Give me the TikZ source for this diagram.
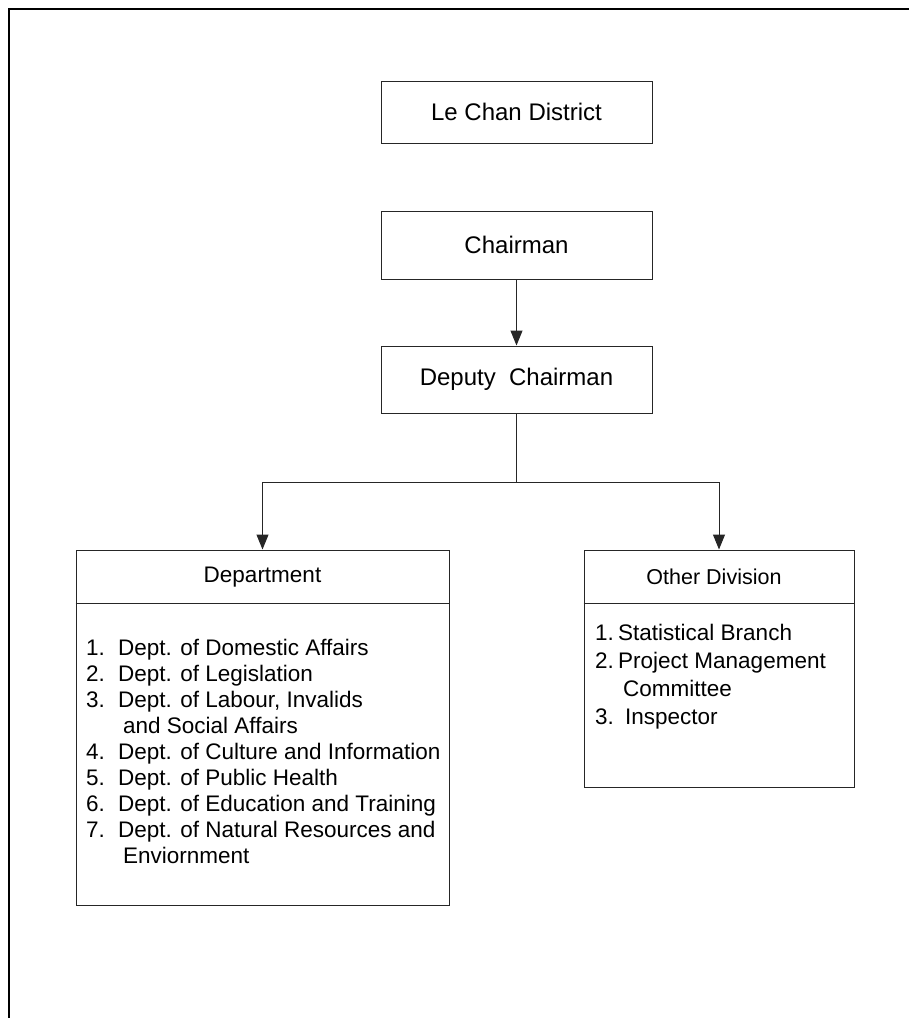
\documentclass[tikz,border=0pt]{standalone}
\usepackage{fontspec}
\setmainfont{Liberation Sans}
\usetikzlibrary{arrows.meta}
\begin{document}
\begin{tikzpicture}[x=1pt,y=-1pt,
  txt/.style={font=\fontsize{22.5}{26}\selectfont, inner sep=0pt},
  bigtxt/.style={font=\fontsize{24}{28}\selectfont, inner sep=0pt},
  box/.style={draw=black!85, line width=1pt, rectangle, inner sep=0pt},
  link/.style={draw=black!85, line width=1pt},
  arrow/.style={link, -{Triangle[length=15pt,width=12pt]}}]
  \useasboundingbox (0,0) rectangle (909,1018);
  % page frame (top and left edges)
  \draw[line width=2pt] (9,1018) -- (9,9) -- (909,9);

  % top-level boxes
  \node[box, bigtxt, minimum width=271pt, minimum height=62pt] (district) at (516.5,112) {Le Chan District};
  \node[box, bigtxt, minimum width=271pt, minimum height=68pt] (chair) at (516.5,245) {Chairman};
  \node[box, bigtxt, minimum width=271pt, minimum height=67pt] (deputy) at (516.5,379.5) {Deputy~~Chairman};

  % lower boxes
  \node[box, minimum width=373pt, minimum height=355pt] (dept) at (262.5,727.5) {};
  \node[box, minimum width=270pt, minimum height=237pt] (other) at (719,668.5) {};

  % header dividers
  \draw[link] (dept.west |- 0,603) -- (dept.east |- 0,603);
  \draw[link] (other.west |- 0,603) -- (other.east |- 0,603);

  % headers
  \node[txt] (depttitle) at (262.5,577) {Department};
  \node[txt, font=\fontsize{21.5}{26}\selectfont] (othertitle) at (714,577) {Other Division};

  % lists
  \node[txt, anchor=base west] (deptlist) at (86,655) {\begin{tabular}[t]{@{}l@{}}
    \makebox[32pt][l]{1.}Dept. of Domestic Affairs\\
    \makebox[32pt][l]{2.}Dept. of Legislation\\
    \makebox[32pt][l]{3.}Dept. of Labour, Invalids\\
    \hspace*{37pt}and Social Affairs\\
    \makebox[32pt][l]{4.}Dept. of Culture and Information\\
    \makebox[32pt][l]{5.}Dept. of Public Health\\
    \makebox[32pt][l]{6.}Dept. of Education and Training\\
    \makebox[32pt][l]{7.}Dept. of Natural Resources and\\
    \hspace*{37pt}Enviornment
  \end{tabular}};
  \node[txt, font=\fontsize{22.5}{28.3}\selectfont, anchor=base west] (otherlist) at (595,640) {\begin{tabular}[t]{@{}l@{}}
    \makebox[23pt][l]{1.}Statistical Branch\\
    \makebox[23pt][l]{2.}Project Management\\
    \hspace*{28pt}Committee\\
    \makebox[30pt][l]{3.}Inspector
  \end{tabular}};

  % connectors
  \draw[arrow] (chair) -- (deputy);
  \coordinate (split) at (516.5,482);
  \draw[link] (deputy.south) -- (split);
  \draw[arrow] (split) -| (dept.north);
  \draw[arrow] (split) -| (other.north);
\end{tikzpicture}
\end{document}
